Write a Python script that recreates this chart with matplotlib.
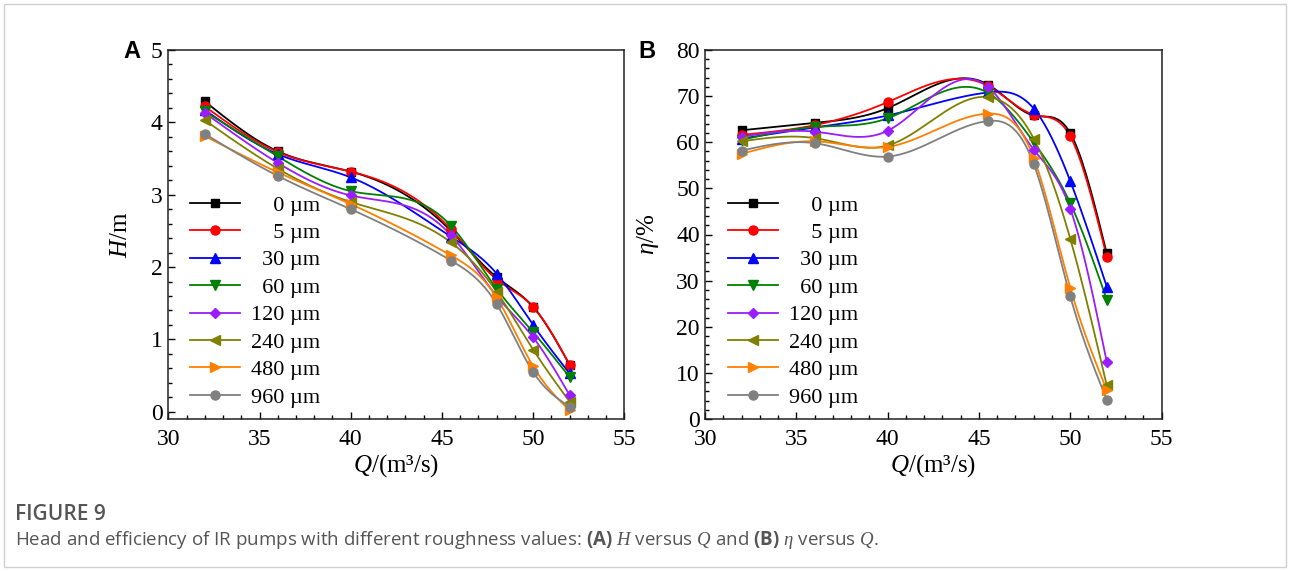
import numpy as np
import matplotlib
matplotlib.use("Agg")
import matplotlib.pyplot as plt
from matplotlib.lines import Line2D
from matplotlib.patches import Rectangle
from matplotlib.ticker import MultipleLocator

# ---------------- data ----------------
Q = [32, 36, 40, 45.5, 48, 50, 52]
roughness = ["0", "5", "30", "60", "120", "240", "480", "960"]

H_0   = [4.29, 3.60, 3.32, 2.50, 1.86, 1.45, 0.65]
H_5   = [4.22, 3.59, 3.32, 2.52, 1.83, 1.45, 0.65]
H_30  = [4.17, 3.56, 3.24, 2.42, 1.91, 1.20, 0.53]
H_60  = [4.15, 3.53, 3.05, 2.57, 1.70, 1.10, 0.48]
H_120 = [4.13, 3.44, 2.99, 2.44, 1.60, 1.03, 0.23]
H_240 = [4.03, 3.36, 2.90, 2.34, 1.66, 0.86, 0.14]
H_480 = [3.81, 3.31, 2.87, 2.16, 1.58, 0.63, 0.02]
H_960 = [3.84, 3.26, 2.80, 2.09, 1.49, 0.55, 0.07]

E_0   = [62.6, 64.2, 67.4, 72.5, 65.8, 62.0, 35.9]
E_5   = [61.6, 63.7, 68.7, 72.2, 66.0, 61.3, 35.2]
E_30  = [60.8, 63.2, 65.8, 70.8, 67.3, 51.6, 28.7]
E_60  = [60.5, 63.3, 65.2, 70.7, 60.0, 46.8, 25.9]
E_120 = [61.2, 62.3, 62.5, 72.0, 58.4, 45.6, 12.4]
E_240 = [60.2, 60.9, 59.3, 69.8, 60.8, 39.1, 7.3]
E_480 = [57.5, 60.2, 59.0, 66.2, 56.6, 28.5, 6.3]
E_960 = [58.2, 59.8, 56.9, 64.6, 55.3, 26.6, 4.2]

H_series = [H_0, H_5, H_30, H_60, H_120, H_240, H_480, H_960]
E_series = [E_0, E_5, E_30, E_60, E_120, E_240, E_480, E_960]

colors = ["#000000", "#ff0000", "#0000ff", "#008000", "#9b1cff", "#808000", "#ff8000", "#808080"]
markers = ["s", "o", "^", "v", "D", "<", ">", "o"]
msizes = [5.5, 6.5, 6.5, 6.5, 5.0, 6.5, 6.5, 6.5]


def natural_spline(x, y, num=300):
    x = np.asarray(x, float)
    y = np.asarray(y, float)
    n = len(x)
    h = np.diff(x)
    A = np.zeros((n, n))
    r = np.zeros(n)
    A[0, 0] = 1.0
    A[-1, -1] = 1.0
    for i in range(1, n - 1):
        A[i, i - 1] = h[i - 1]
        A[i, i] = 2 * (h[i - 1] + h[i])
        A[i, i + 1] = h[i]
        r[i] = 3 * ((y[i + 1] - y[i]) / h[i] - (y[i] - y[i - 1]) / h[i - 1])
    c = np.linalg.solve(A, r)
    b = (y[1:] - y[:-1]) / h - h * (2 * c[:-1] + c[1:]) / 3
    d = (c[1:] - c[:-1]) / (3 * h)
    xs = np.linspace(x[0], x[-1], num)
    idx = np.clip(np.searchsorted(x, xs, side="right") - 1, 0, n - 2)
    t = xs - x[idx]
    ys = y[idx] + b[idx] * t + c[idx] * t ** 2 + d[idx] * t ** 3
    return xs, ys


serif = ["Liberation Serif", "DejaVu Serif"]
plt.rcParams["font.family"] = serif
plt.rcParams["mathtext.fontset"] = "custom"
plt.rcParams["mathtext.it"] = "Liberation Serif:italic"
plt.rcParams["mathtext.rm"] = "Liberation Serif"
plt.rcParams["mathtext.bf"] = "Open Sans:bold"

fig = plt.figure(figsize=(12.9, 5.71), dpi=100)
W, Hh = 1290, 571


def axes_px(l, r, t, b):
    return fig.add_axes([l / W, 1 - b / Hh, (r - l) / W, (b - t) / Hh])


axA = axes_px(168.3, 624.3, 50, 419)
axB = axes_px(705.2, 1161.5, 50, 419)

fs_tick = 17
fs_leg = 16
fs_lab = 18
for ax, series, lx in ((axA, H_series, 0.047), (axB, E_series, 0.05)):
    for ys, col, mk, ms in zip(series, colors, markers, msizes):
        xs_s, ys_s = natural_spline(Q, ys)
        ax.plot(xs_s, ys_s, color=col, lw=1.3, zorder=2)
        ax.plot(Q, ys, linestyle="none", marker=mk, color=col, ms=ms, zorder=3)
    ax.set_xlim(30, 55)
    ax.xaxis.set_major_locator(MultipleLocator(5))
    ax.xaxis.set_minor_locator(MultipleLocator(1))
    ax.tick_params(which="both", direction="in", top=False, right=False,
                   labelsize=fs_tick)
    ax.tick_params(axis="x", pad=7)
    ax.tick_params(axis="y", pad=4)
    ax.tick_params(which="major", length=5, width=1.0)
    ax.tick_params(which="minor", length=3, width=1.0)
    for sp in ax.spines.values():
        sp.set_linewidth(1.1)
        sp.set_color("#222222")

    handles = [Line2D([], [], color=c, marker=m, ms=s, lw=1.3)
               for c, m, s in zip(colors, markers, msizes)]
    labels = [("\u2007" * (3 - len(r))) + r + " \u00b5m" for r in roughness]
    ax.legend(handles, labels, loc="upper left", bbox_to_anchor=(lx, 0.607),
              frameon=False, fontsize=fs_leg, handlelength=2.25, handletextpad=0.5,
              labelspacing=0.31, borderpad=0, borderaxespad=0)
    ax.set_xlabel(r"$\mathit{Q}$/(m³/s)", fontsize=fs_lab)
    ax.xaxis.set_label_coords(0.5, -0.09)

axA.set_ylim(-0.1, 5)
axA.yaxis.set_major_locator(MultipleLocator(1))
axA.yaxis.set_minor_locator(MultipleLocator(0.2))
axB.set_ylim(0, 80)
axB.yaxis.set_major_locator(MultipleLocator(10))
axB.yaxis.set_minor_locator(MultipleLocator(2))

axA.set_ylabel(r"$\mathit{H}$/m", fontsize=fs_lab)
axA.yaxis.set_label_coords(-0.08, 0.5)
axB.set_ylabel(r"$\mathit{\eta}$/%", fontsize=fs_lab)
axB.yaxis.set_label_coords(-0.097, 0.5)

fig.text(123 / W, 1 - 51 / Hh, "A", fontsize=17, fontweight="bold",
         family=["Liberation Sans", "DejaVu Sans"], va="center", ha="left")
fig.text(638 / W, 1 - 51 / Hh, "B", fontsize=17, fontweight="bold",
         family=["Liberation Sans", "DejaVu Sans"], va="center", ha="left")

fig.text(15 / W, 1 - 515 / Hh, "FIGURE 9", fontsize=15, color="#555555",
         family=["Open Sans", "DejaVu Sans"], fontweight="semibold",
         va="center", ha="left")
fig.text(15 / W, 1 - 540 / Hh,
         "Head and efficiency of IR pumps with different roughness values: "
         r"$\mathbf{(A)}$ $\mathit{H}$ versus $\mathit{Q}$ and $\mathbf{(B)}$ $\mathit{\eta}$ versus $\mathit{Q}$.",
         fontsize=13.5, color="#555555", family=["Open Sans", "DejaVu Sans"],
         va="center", ha="left")

fig.patches.append(Rectangle((4 / W, 4 / Hh), 1282 / W, 563 / Hh,
                             transform=fig.transFigure, fill=False,
                             edgecolor="#d0d0d0", lw=1.0))

fig.savefig("out.png", dpi=100)
